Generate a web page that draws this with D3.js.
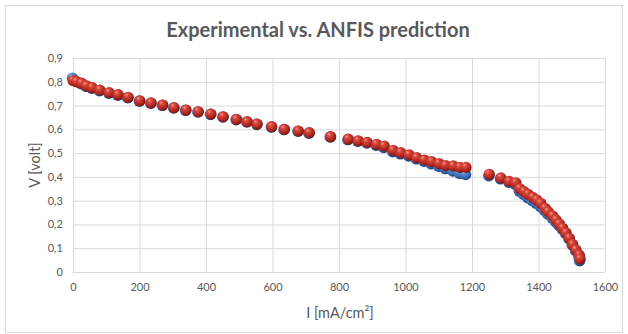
<!DOCTYPE html>
<html>
<head>
<meta charset="utf-8">
<script src="https://cdn.jsdelivr.net/npm/d3@7"></script>
<style>
  html, body { margin: 0; padding: 0; background: #fff; }
  svg { display: block; }
</style>
</head>
<body>
<svg id="chart" width="628" height="334"></svg>
<script>
// ---- Data ----
const current = [0, 11, 26, 41, 58, 81, 109, 136, 166, 201, 235, 270, 304, 340, 377, 415, 452, 492, 524, 554,
  598, 636, 678, 711, 775, 828, 858, 885, 913, 936, 963, 986, 1011, 1034, 1057, 1079, 1101, 1121, 1144, 1164, 1182,
  1252, 1287, 1312, 1332, 1344, 1357, 1369, 1383, 1395, 1407, 1420, 1429, 1443, 1453, 1463, 1473, 1483, 1493, 1503, 1513, 1523, 1525];
const voltageExperimental = [0.815, 0.802, 0.792, 0.781, 0.773, 0.763, 0.752, 0.744, 0.733, 0.719, 0.710, 0.701, 0.690, 0.680, 0.673, 0.663, 0.652, 0.641, 0.631, 0.621,
  0.610, 0.599, 0.592, 0.584, 0.568, 0.557, 0.550, 0.543, 0.533, 0.524, 0.506, 0.497, 0.488, 0.476, 0.466, 0.455, 0.445, 0.435, 0.425, 0.415, 0.410,
  0.405, 0.392, 0.378, 0.368, 0.340, 0.326, 0.313, 0.300, 0.289, 0.276, 0.258, 0.244, 0.226, 0.211, 0.196, 0.180, 0.162, 0.140, 0.114, 0.090, 0.065, 0.048];
const voltageAnfis = [0.805, 0.800, 0.794, 0.783, 0.775, 0.765, 0.754, 0.746, 0.735, 0.720, 0.711, 0.702, 0.691, 0.681, 0.674, 0.664, 0.653, 0.642, 0.632, 0.622,
  0.611, 0.600, 0.593, 0.586, 0.569, 0.559, 0.552, 0.545, 0.537, 0.530, 0.512, 0.502, 0.493, 0.481, 0.471, 0.464, 0.456, 0.448, 0.446, 0.440, 0.440,
  0.411, 0.396, 0.381, 0.375, 0.350, 0.338, 0.327, 0.314, 0.303, 0.289, 0.268, 0.254, 0.236, 0.219, 0.202, 0.184, 0.165, 0.142, 0.116, 0.093, 0.071, 0.055];
const xTicks = [0, 200, 400, 600, 800, 1000, 1200, 1400, 1600];
const yTicks = [0, 0.1, 0.2, 0.3, 0.4, 0.5, 0.6, 0.7, 0.8, 0.9];
const titleText = "Experimental vs. ANFIS prediction";
const xTitle = "I [mA/cm²]";
const yTitle = "V [volt]";

// ---- Layout ----
const W = 628, H = 334;
const plot = { left: 73, right: 605, top: 58, bottom: 272 };
const font = "Lato, 'Liberation Sans', sans-serif";
const textColor = "#595959";
const gridColor = "#d9d9d9";

const svg = d3.select("#chart");

const x = d3.scaleLinear().domain([0, 1600]).range([plot.left, plot.right]);
const y = d3.scaleLinear().domain([0, 0.9]).range([plot.bottom, plot.top]);

// Outer border
svg.append("rect")
  .attr("x", 5.5).attr("y", 5.5).attr("width", 617).attr("height", 327)
  .attr("fill", "#fff").attr("stroke", gridColor).attr("stroke-width", 1);

// Gradients for 3D spheres
const defs = svg.append("defs");
function sphere(id, stops) {
  const g = defs.append("radialGradient").attr("id", id)
    .attr("cx", "38%").attr("cy", "32%").attr("r", "70%").attr("fx", "35%").attr("fy", "28%");
  stops.forEach(s => g.append("stop").attr("offset", s[0]).attr("stop-color", s[1]));
}
sphere("gRed", [["0%", "#f29a8c"], ["25%", "#d9473a"], ["65%", "#b52a22"], ["100%", "#701612"]]);
sphere("gBlue", [["0%", "#a9c8f2"], ["25%", "#5a8fd6"], ["65%", "#3a6cb5"], ["100%", "#1e3f75"]]);

// Gridlines and tick labels
const fmt = d => d === 0 ? "0" : d3.format(".1f")(d).replace(".", ",");
svg.append("g").attr("transform", `translate(${plot.left},0)`)
  .call(d3.axisLeft(y).tickValues(yTicks).tickSize(-(plot.right - plot.left)).tickFormat(fmt).tickPadding(10))
  .call(g => g.select(".domain").remove())
  .call(g => g.selectAll(".tick line").attr("stroke", gridColor).attr("stroke-width", 1))
  .call(g => g.selectAll(".tick text").attr("fill", textColor).attr("font-size", 11).attr("font-family", font));

svg.append("g").attr("transform", `translate(0,${plot.bottom})`)
  .call(d3.axisBottom(x).tickValues(xTicks).tickSize(-(plot.bottom - plot.top)).tickFormat(d3.format("d")).tickPadding(11))
  .call(g => g.select(".domain").remove())
  .call(g => g.selectAll(".tick line").attr("stroke", gridColor).attr("stroke-width", 1))
  .call(g => g.selectAll(".tick text").attr("fill", textColor).attr("font-size", 11).attr("font-family", font));

// Series
const expData = current.map((c, i) => ({ c, v: voltageExperimental[i] }));
const anfisData = current.map((c, i) => ({ c, v: voltageAnfis[i] }));

svg.append("g").selectAll("circle").data(expData).join("circle")
  .attr("cx", d => x(d.c) - 0.5).attr("cy", d => y(d.v))
  .attr("r", 5.8).attr("fill", "url(#gBlue)");

svg.append("g").selectAll("circle").data(anfisData).join("circle")
  .attr("cx", d => x(d.c)).attr("cy", d => y(d.v))
  .attr("r", 5.6).attr("fill", "url(#gRed)");

// Titles
svg.append("text").attr("x", 318).attr("y", 37).attr("text-anchor", "middle")
  .attr("font-family", font).attr("font-weight", "bold").attr("font-size", 20)
  .attr("fill", textColor).text(titleText);

svg.append("text").attr("x", 340).attr("y", 318).attr("text-anchor", "middle")
  .attr("font-family", font).attr("font-size", 14.5)
  .attr("fill", textColor).text(xTitle);

svg.append("text").attr("transform", `translate(40,${(plot.top + plot.bottom) / 2}) rotate(-90)`)
  .attr("text-anchor", "middle")
  .attr("font-family", font).attr("font-size", 14.5)
  .attr("fill", textColor).text(yTitle);
</script>
</body>
</html>
